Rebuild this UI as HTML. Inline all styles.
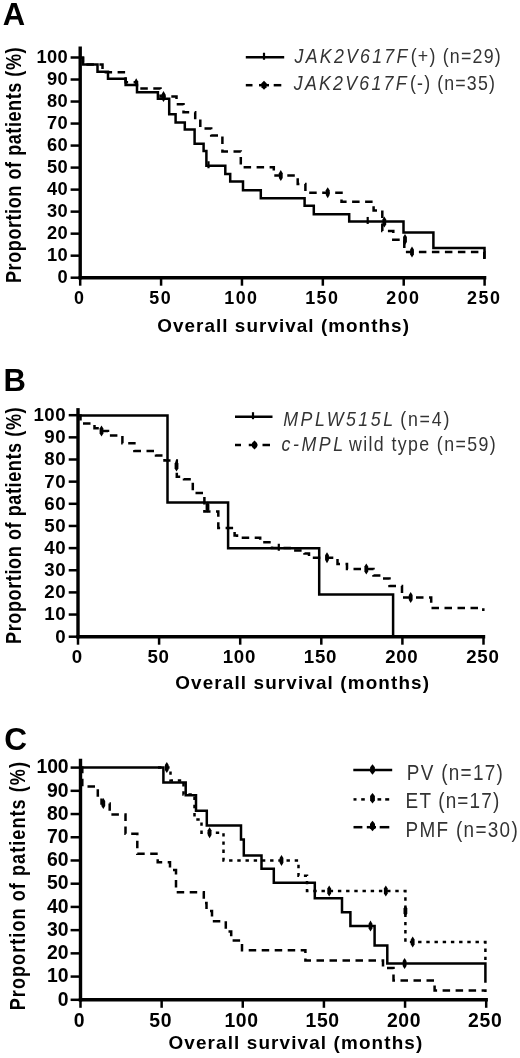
<!DOCTYPE html>
<html><head><meta charset="utf-8"><style>html,body{margin:0;padding:0;background:#fff;}svg{display:block;will-change:transform;}</style></head>
<body>
<svg width="520" height="1058" viewBox="0 0 520 1058">
<rect width="520" height="1058" fill="#fff"/>
<text x="2.83" y="25.10" font-size="31.00" letter-spacing="0.000" font-family="Liberation Sans, sans-serif" xml:space="preserve"><tspan font-weight="bold">A</tspan></text>
<text x="3.48" y="391.00" font-size="31.00" letter-spacing="0.000" font-family="Liberation Sans, sans-serif" xml:space="preserve"><tspan font-weight="bold">B</tspan></text>
<text x="4.34" y="749.60" font-size="31.60" letter-spacing="0.000" font-family="Liberation Sans, sans-serif" xml:space="preserve"><tspan font-weight="bold">C</tspan></text>
<line x1="80.20" y1="46.50" x2="80.20" y2="279.40" stroke="#000" stroke-width="3.40"/>
<line x1="78.50" y1="277.70" x2="486.30" y2="277.70" stroke="#000" stroke-width="3.40"/>
<line x1="70.60" y1="277.70" x2="80.20" y2="277.70" stroke="#000" stroke-width="2.50"/>
<text x="57.58" y="283.01" font-size="18.30" letter-spacing="0.430" font-family="Liberation Sans, sans-serif" xml:space="preserve"><tspan font-weight="bold">0</tspan></text>
<line x1="70.60" y1="255.68" x2="80.20" y2="255.68" stroke="#000" stroke-width="2.50"/>
<text x="46.99" y="260.99" font-size="18.30" letter-spacing="0.430" font-family="Liberation Sans, sans-serif" xml:space="preserve"><tspan font-weight="bold">10</tspan></text>
<line x1="70.60" y1="233.66" x2="80.20" y2="233.66" stroke="#000" stroke-width="2.50"/>
<text x="46.99" y="238.97" font-size="18.30" letter-spacing="0.430" font-family="Liberation Sans, sans-serif" xml:space="preserve"><tspan font-weight="bold">20</tspan></text>
<line x1="70.60" y1="211.64" x2="80.20" y2="211.64" stroke="#000" stroke-width="2.50"/>
<text x="46.99" y="216.95" font-size="18.30" letter-spacing="0.430" font-family="Liberation Sans, sans-serif" xml:space="preserve"><tspan font-weight="bold">30</tspan></text>
<line x1="70.60" y1="189.62" x2="80.20" y2="189.62" stroke="#000" stroke-width="2.50"/>
<text x="46.99" y="194.93" font-size="18.30" letter-spacing="0.430" font-family="Liberation Sans, sans-serif" xml:space="preserve"><tspan font-weight="bold">40</tspan></text>
<line x1="70.60" y1="167.60" x2="80.20" y2="167.60" stroke="#000" stroke-width="2.50"/>
<text x="46.99" y="172.91" font-size="18.30" letter-spacing="0.430" font-family="Liberation Sans, sans-serif" xml:space="preserve"><tspan font-weight="bold">50</tspan></text>
<line x1="70.60" y1="145.58" x2="80.20" y2="145.58" stroke="#000" stroke-width="2.50"/>
<text x="46.99" y="150.89" font-size="18.30" letter-spacing="0.430" font-family="Liberation Sans, sans-serif" xml:space="preserve"><tspan font-weight="bold">60</tspan></text>
<line x1="70.60" y1="123.56" x2="80.20" y2="123.56" stroke="#000" stroke-width="2.50"/>
<text x="46.99" y="128.87" font-size="18.30" letter-spacing="0.430" font-family="Liberation Sans, sans-serif" xml:space="preserve"><tspan font-weight="bold">70</tspan></text>
<line x1="70.60" y1="101.54" x2="80.20" y2="101.54" stroke="#000" stroke-width="2.50"/>
<text x="46.99" y="106.85" font-size="18.30" letter-spacing="0.430" font-family="Liberation Sans, sans-serif" xml:space="preserve"><tspan font-weight="bold">80</tspan></text>
<line x1="70.60" y1="79.52" x2="80.20" y2="79.52" stroke="#000" stroke-width="2.50"/>
<text x="46.99" y="84.83" font-size="18.30" letter-spacing="0.430" font-family="Liberation Sans, sans-serif" xml:space="preserve"><tspan font-weight="bold">90</tspan></text>
<line x1="70.60" y1="57.50" x2="80.20" y2="57.50" stroke="#000" stroke-width="2.50"/>
<text x="36.40" y="62.81" font-size="18.30" letter-spacing="0.430" font-family="Liberation Sans, sans-serif" xml:space="preserve"><tspan font-weight="bold">100</tspan></text>
<line x1="80.20" y1="277.70" x2="80.20" y2="285.70" stroke="#000" stroke-width="2.50"/>
<text x="74.08" y="304.00" font-size="17.90" letter-spacing="1.470" font-family="Liberation Sans, sans-serif" xml:space="preserve"><tspan font-weight="bold">0</tspan></text>
<line x1="161.08" y1="277.70" x2="161.08" y2="285.70" stroke="#000" stroke-width="2.50"/>
<text x="149.35" y="304.00" font-size="17.90" letter-spacing="1.470" font-family="Liberation Sans, sans-serif" xml:space="preserve"><tspan font-weight="bold">50</tspan></text>
<line x1="241.96" y1="277.70" x2="241.96" y2="285.70" stroke="#000" stroke-width="2.50"/>
<text x="224.26" y="304.00" font-size="17.90" letter-spacing="1.470" font-family="Liberation Sans, sans-serif" xml:space="preserve"><tspan font-weight="bold">100</tspan></text>
<line x1="322.84" y1="277.70" x2="322.84" y2="285.70" stroke="#000" stroke-width="2.50"/>
<text x="305.14" y="304.00" font-size="17.90" letter-spacing="1.470" font-family="Liberation Sans, sans-serif" xml:space="preserve"><tspan font-weight="bold">150</tspan></text>
<line x1="403.72" y1="277.70" x2="403.72" y2="285.70" stroke="#000" stroke-width="2.50"/>
<text x="386.24" y="304.00" font-size="17.90" letter-spacing="1.470" font-family="Liberation Sans, sans-serif" xml:space="preserve"><tspan font-weight="bold">200</tspan></text>
<line x1="484.60" y1="277.70" x2="484.60" y2="285.70" stroke="#000" stroke-width="2.50"/>
<text x="467.12" y="304.00" font-size="17.90" letter-spacing="1.470" font-family="Liberation Sans, sans-serif" xml:space="preserve"><tspan font-weight="bold">250</tspan></text>
<text transform="translate(20.70 282.98) rotate(-90) scale(1 1.2000)" font-size="18.10" letter-spacing="0.537" font-family="Liberation Sans, sans-serif" xml:space="preserve"><tspan font-weight="bold">Proportion of patients (%)</tspan></text>
<text transform="translate(157.24 331.80) scale(1.0500 1)" font-size="18.00" letter-spacing="0.994" font-family="Liberation Sans, sans-serif" xml:space="preserve"><tspan font-weight="bold">Overall survival (months)</tspan></text>
<path d="M80.2 57.7H83V64.5H97.5V71.7H108V78.8H125.6V85.1H137V92.3H157.9V98.8H169.2V114.3H175.6V122.4H184.8V129.5H194.6V143.8H203.6V151H206.4V165.8H225.3V174H230.2V181.5H243V190.3H260.8V198.3H304.6V205.8H313.8V214.2H349.2V221.5H403.5V232.4H433.4V248H484.5V258.8" fill="none" stroke="#000" stroke-width="2.50" stroke-linejoin="miter"/>
<line x1="208.50" y1="161.25" x2="208.50" y2="168.25" stroke="#000" stroke-width="2.20"/>
<line x1="367.70" y1="216.95" x2="367.70" y2="223.95" stroke="#000" stroke-width="2.20"/>
<path d="M80.2 57.7H83V64.5H102.5V72.3H125.6V82.3H137V88.6H160.5V96.6H176.5V104.2H183.5V112.2H195.2V119.2H200.3V128.4H211.2V135.4H222.4V151.4H240.8V167.3H273.8V175.6H297.7V184H305.4V192.7H341.5V201.8H373.6V210.4H382.3V231H393.3V239.7H404.3V252H484.3V264" fill="none" stroke="#000" stroke-width="2.50" stroke-dasharray="7.5 5.5" stroke-linejoin="miter"/>
<path d="M136.20 78.30L137.50 80.54L137.50 84.06L136.20 86.30L134.90 84.06L134.90 80.54Z" fill="#000"/>
<path d="M163.50 91.10L165.40 94.18L165.40 99.02L163.50 102.10L161.60 99.02L161.60 94.18Z" fill="#000"/>
<path d="M280.80 170.10L282.70 173.18L282.70 178.02L280.80 181.10L278.90 178.02L278.90 173.18Z" fill="#000"/>
<path d="M327.70 187.20L329.60 190.28L329.60 195.12L327.70 198.20L325.80 195.12L325.80 190.28Z" fill="#000"/>
<path d="M384.30 216.50L386.20 219.58L386.20 224.42L384.30 227.50L382.40 224.42L382.40 219.58Z" fill="#000"/>
<path d="M405.00 234.00L406.90 237.08L406.90 241.92L405.00 245.00L403.10 241.92L403.10 237.08Z" fill="#000"/>
<path d="M412.00 246.50L413.90 249.58L413.90 254.42L412.00 257.50L410.10 254.42L410.10 249.58Z" fill="#000"/>
<line x1="245.80" y1="57.30" x2="284.20" y2="57.30" stroke="#000" stroke-width="2.50"/>
<line x1="264.00" y1="52.75" x2="264.00" y2="59.75" stroke="#000" stroke-width="2.20"/>
<line x1="245.80" y1="85.20" x2="252.50" y2="85.20" stroke="#000" stroke-width="2.50"/>
<line x1="259.00" y1="85.20" x2="269.00" y2="85.20" stroke="#000" stroke-width="2.50"/>
<line x1="273.70" y1="85.20" x2="281.30" y2="85.20" stroke="#000" stroke-width="2.50"/>
<path d="M264.00 80.70L266.50 83.22L266.50 87.18L264.00 89.70L261.50 87.18L261.50 83.22Z" fill="#000"/>
<text transform="translate(294.60 63.00) scale(0.8800 1)" font-size="20.20" letter-spacing="2.539" font-family="Liberation Sans, sans-serif" fill="#333" xml:space="preserve"><tspan font-style="italic">JAK2V617F</tspan></text>
<text transform="translate(410.73 63.00) scale(0.8800 1)" font-size="20.20" letter-spacing="1.379" font-family="Liberation Sans, sans-serif" fill="#333" xml:space="preserve"><tspan>(+) (n=29)</tspan></text>
<text transform="translate(293.80 90.20) scale(0.8800 1)" font-size="20.20" letter-spacing="2.539" font-family="Liberation Sans, sans-serif" fill="#333" xml:space="preserve"><tspan font-style="italic">JAK2V617F</tspan></text>
<text transform="translate(410.03 90.20) scale(0.8800 1)" font-size="20.20" letter-spacing="1.296" font-family="Liberation Sans, sans-serif" fill="#333" xml:space="preserve"><tspan>(-) (n=35)</tspan></text>
<line x1="78.00" y1="408.10" x2="78.00" y2="638.40" stroke="#000" stroke-width="3.40"/>
<line x1="76.30" y1="636.70" x2="485.20" y2="636.70" stroke="#000" stroke-width="3.40"/>
<line x1="68.70" y1="636.70" x2="78.00" y2="636.70" stroke="#000" stroke-width="2.50"/>
<text x="55.17" y="642.60" font-size="18.70" letter-spacing="0.467" font-family="Liberation Sans, sans-serif" xml:space="preserve"><tspan font-weight="bold">0</tspan></text>
<line x1="68.70" y1="614.55" x2="78.00" y2="614.55" stroke="#000" stroke-width="2.50"/>
<text x="44.32" y="620.45" font-size="18.70" letter-spacing="0.467" font-family="Liberation Sans, sans-serif" xml:space="preserve"><tspan font-weight="bold">10</tspan></text>
<line x1="68.70" y1="592.40" x2="78.00" y2="592.40" stroke="#000" stroke-width="2.50"/>
<text x="44.32" y="598.30" font-size="18.70" letter-spacing="0.467" font-family="Liberation Sans, sans-serif" xml:space="preserve"><tspan font-weight="bold">20</tspan></text>
<line x1="68.70" y1="570.25" x2="78.00" y2="570.25" stroke="#000" stroke-width="2.50"/>
<text x="44.32" y="576.15" font-size="18.70" letter-spacing="0.467" font-family="Liberation Sans, sans-serif" xml:space="preserve"><tspan font-weight="bold">30</tspan></text>
<line x1="68.70" y1="548.10" x2="78.00" y2="548.10" stroke="#000" stroke-width="2.50"/>
<text x="44.32" y="554.00" font-size="18.70" letter-spacing="0.467" font-family="Liberation Sans, sans-serif" xml:space="preserve"><tspan font-weight="bold">40</tspan></text>
<line x1="68.70" y1="525.95" x2="78.00" y2="525.95" stroke="#000" stroke-width="2.50"/>
<text x="44.32" y="531.85" font-size="18.70" letter-spacing="0.467" font-family="Liberation Sans, sans-serif" xml:space="preserve"><tspan font-weight="bold">50</tspan></text>
<line x1="68.70" y1="503.80" x2="78.00" y2="503.80" stroke="#000" stroke-width="2.50"/>
<text x="44.32" y="509.70" font-size="18.70" letter-spacing="0.467" font-family="Liberation Sans, sans-serif" xml:space="preserve"><tspan font-weight="bold">60</tspan></text>
<line x1="68.70" y1="481.65" x2="78.00" y2="481.65" stroke="#000" stroke-width="2.50"/>
<text x="44.32" y="487.55" font-size="18.70" letter-spacing="0.467" font-family="Liberation Sans, sans-serif" xml:space="preserve"><tspan font-weight="bold">70</tspan></text>
<line x1="68.70" y1="459.50" x2="78.00" y2="459.50" stroke="#000" stroke-width="2.50"/>
<text x="44.32" y="465.40" font-size="18.70" letter-spacing="0.467" font-family="Liberation Sans, sans-serif" xml:space="preserve"><tspan font-weight="bold">80</tspan></text>
<line x1="68.70" y1="437.35" x2="78.00" y2="437.35" stroke="#000" stroke-width="2.50"/>
<text x="44.32" y="443.25" font-size="18.70" letter-spacing="0.467" font-family="Liberation Sans, sans-serif" xml:space="preserve"><tspan font-weight="bold">90</tspan></text>
<line x1="68.70" y1="415.20" x2="78.00" y2="415.20" stroke="#000" stroke-width="2.50"/>
<text x="33.48" y="421.10" font-size="18.70" letter-spacing="0.467" font-family="Liberation Sans, sans-serif" xml:space="preserve"><tspan font-weight="bold">100</tspan></text>
<line x1="78.00" y1="636.70" x2="78.00" y2="644.70" stroke="#000" stroke-width="2.50"/>
<text x="71.81" y="662.60" font-size="18.70" letter-spacing="0.684" font-family="Liberation Sans, sans-serif" xml:space="preserve"><tspan font-weight="bold">0</tspan></text>
<line x1="159.10" y1="636.70" x2="159.10" y2="644.70" stroke="#000" stroke-width="2.50"/>
<text x="147.47" y="662.60" font-size="18.70" letter-spacing="0.684" font-family="Liberation Sans, sans-serif" xml:space="preserve"><tspan font-weight="bold">50</tspan></text>
<line x1="240.20" y1="636.70" x2="240.20" y2="644.70" stroke="#000" stroke-width="2.50"/>
<text x="222.76" y="662.60" font-size="18.70" letter-spacing="0.684" font-family="Liberation Sans, sans-serif" xml:space="preserve"><tspan font-weight="bold">100</tspan></text>
<line x1="321.30" y1="636.70" x2="321.30" y2="644.70" stroke="#000" stroke-width="2.50"/>
<text x="303.86" y="662.60" font-size="18.70" letter-spacing="0.684" font-family="Liberation Sans, sans-serif" xml:space="preserve"><tspan font-weight="bold">150</tspan></text>
<line x1="402.40" y1="636.70" x2="402.40" y2="644.70" stroke="#000" stroke-width="2.50"/>
<text x="385.20" y="662.60" font-size="18.70" letter-spacing="0.684" font-family="Liberation Sans, sans-serif" xml:space="preserve"><tspan font-weight="bold">200</tspan></text>
<line x1="483.50" y1="636.70" x2="483.50" y2="644.70" stroke="#000" stroke-width="2.50"/>
<text x="466.30" y="662.60" font-size="18.70" letter-spacing="0.684" font-family="Liberation Sans, sans-serif" xml:space="preserve"><tspan font-weight="bold">250</tspan></text>
<text transform="translate(20.70 643.88) rotate(-90) scale(1 1.2000)" font-size="18.10" letter-spacing="0.573" font-family="Liberation Sans, sans-serif" xml:space="preserve"><tspan font-weight="bold">Proportion of patients (%)</tspan></text>
<text transform="translate(175.24 688.80) scale(1.0500 1)" font-size="18.00" letter-spacing="1.074" font-family="Liberation Sans, sans-serif" xml:space="preserve"><tspan font-weight="bold">Overall survival (months)</tspan></text>
<path d="M78 415.5H167.5V502.5H228.1V548.3H319.2V594.6H393.1V636.7" fill="none" stroke="#000" stroke-width="2.50" stroke-linejoin="miter"/>
<line x1="278.80" y1="543.75" x2="278.80" y2="550.75" stroke="#000" stroke-width="2.20"/>
<path d="M78 415.5H80.5V423.5H94.5V428.2H101.5V431H108V435.6H122.4V443.3H134.4V451H156V455.5H164.5V460.5H176.8V476.8H184V479.2H192.8V493H204.4V511.5H218.3V527.9H234.6V535.6H237V537.8H260.2V542.3H272V548H294V550.4H304.5V553.5H309V557.7H337.5V564H347V569H373.5V575.6H383V578.5H389.5V586H402V597.5H431.2V608H483.3V611" fill="none" stroke="#000" stroke-width="2.50" stroke-dasharray="7.5 5.5" stroke-linejoin="miter"/>
<path d="M101.50 425.50L103.40 428.58L103.40 433.42L101.50 436.50L99.60 433.42L99.60 428.58Z" fill="#000"/>
<path d="M176.50 460.50L178.40 463.58L178.40 468.42L176.50 471.50L174.60 468.42L174.60 463.58Z" fill="#000"/>
<path d="M207.50 501.50L209.40 504.58L209.40 509.42L207.50 512.50L205.60 509.42L205.60 504.58Z" fill="#000"/>
<path d="M327.00 552.20L328.90 555.28L328.90 560.12L327.00 563.20L325.10 560.12L325.10 555.28Z" fill="#000"/>
<path d="M366.30 563.50L368.20 566.58L368.20 571.42L366.30 574.50L364.40 571.42L364.40 566.58Z" fill="#000"/>
<path d="M410.70 592.00L412.60 595.08L412.60 599.92L410.70 603.00L408.80 599.92L408.80 595.08Z" fill="#000"/>
<line x1="235.00" y1="416.75" x2="272.50" y2="416.75" stroke="#000" stroke-width="2.50"/>
<line x1="253.00" y1="412.20" x2="253.00" y2="419.20" stroke="#000" stroke-width="2.20"/>
<line x1="235.00" y1="445.00" x2="241.00" y2="445.00" stroke="#000" stroke-width="2.50"/>
<line x1="248.75" y1="445.00" x2="257.50" y2="445.00" stroke="#000" stroke-width="2.50"/>
<line x1="262.50" y1="445.00" x2="270.00" y2="445.00" stroke="#000" stroke-width="2.50"/>
<path d="M254.50 440.50L257.00 443.02L257.00 446.98L254.50 449.50L252.00 446.98L252.00 443.02Z" fill="#000"/>
<text transform="translate(283.27 425.60) scale(0.8800 1)" font-size="20.20" letter-spacing="2.859" font-family="Liberation Sans, sans-serif" fill="#333" xml:space="preserve"><tspan font-style="italic">MPLW515L</tspan></text>
<text transform="translate(400.13 425.60) scale(0.8800 1)" font-size="20.20" letter-spacing="2.097" font-family="Liberation Sans, sans-serif" fill="#333" xml:space="preserve"><tspan>(n=4)</tspan></text>
<text transform="translate(281.47 451.00) scale(0.8800 1)" font-size="20.20" letter-spacing="2.956" font-family="Liberation Sans, sans-serif" fill="#333" xml:space="preserve"><tspan font-style="italic">c-MPL</tspan></text>
<text transform="translate(349.00 451.00) scale(0.8800 1)" font-size="20.20" letter-spacing="1.570" font-family="Liberation Sans, sans-serif" fill="#333" xml:space="preserve"><tspan>wild type (n=59)</tspan></text>
<line x1="80.50" y1="758.70" x2="80.50" y2="1001.50" stroke="#000" stroke-width="3.40"/>
<line x1="78.80" y1="999.80" x2="487.90" y2="999.80" stroke="#000" stroke-width="3.40"/>
<line x1="70.60" y1="999.80" x2="80.50" y2="999.80" stroke="#000" stroke-width="2.50"/>
<text x="57.71" y="1005.59" font-size="19.40" letter-spacing="-0.180" font-family="Liberation Sans, sans-serif" xml:space="preserve"><tspan font-weight="bold">0</tspan></text>
<line x1="70.60" y1="976.58" x2="80.50" y2="976.58" stroke="#000" stroke-width="2.50"/>
<text x="47.12" y="982.37" font-size="19.40" letter-spacing="-0.180" font-family="Liberation Sans, sans-serif" xml:space="preserve"><tspan font-weight="bold">10</tspan></text>
<line x1="70.60" y1="953.36" x2="80.50" y2="953.36" stroke="#000" stroke-width="2.50"/>
<text x="47.12" y="959.15" font-size="19.40" letter-spacing="-0.180" font-family="Liberation Sans, sans-serif" xml:space="preserve"><tspan font-weight="bold">20</tspan></text>
<line x1="70.60" y1="930.14" x2="80.50" y2="930.14" stroke="#000" stroke-width="2.50"/>
<text x="47.12" y="935.93" font-size="19.40" letter-spacing="-0.180" font-family="Liberation Sans, sans-serif" xml:space="preserve"><tspan font-weight="bold">30</tspan></text>
<line x1="70.60" y1="906.92" x2="80.50" y2="906.92" stroke="#000" stroke-width="2.50"/>
<text x="47.12" y="912.71" font-size="19.40" letter-spacing="-0.180" font-family="Liberation Sans, sans-serif" xml:space="preserve"><tspan font-weight="bold">40</tspan></text>
<line x1="70.60" y1="883.70" x2="80.50" y2="883.70" stroke="#000" stroke-width="2.50"/>
<text x="47.12" y="889.49" font-size="19.40" letter-spacing="-0.180" font-family="Liberation Sans, sans-serif" xml:space="preserve"><tspan font-weight="bold">50</tspan></text>
<line x1="70.60" y1="860.48" x2="80.50" y2="860.48" stroke="#000" stroke-width="2.50"/>
<text x="47.12" y="866.27" font-size="19.40" letter-spacing="-0.180" font-family="Liberation Sans, sans-serif" xml:space="preserve"><tspan font-weight="bold">60</tspan></text>
<line x1="70.60" y1="837.26" x2="80.50" y2="837.26" stroke="#000" stroke-width="2.50"/>
<text x="47.12" y="843.05" font-size="19.40" letter-spacing="-0.180" font-family="Liberation Sans, sans-serif" xml:space="preserve"><tspan font-weight="bold">70</tspan></text>
<line x1="70.60" y1="814.04" x2="80.50" y2="814.04" stroke="#000" stroke-width="2.50"/>
<text x="47.12" y="819.83" font-size="19.40" letter-spacing="-0.180" font-family="Liberation Sans, sans-serif" xml:space="preserve"><tspan font-weight="bold">80</tspan></text>
<line x1="70.60" y1="790.82" x2="80.50" y2="790.82" stroke="#000" stroke-width="2.50"/>
<text x="47.12" y="796.61" font-size="19.40" letter-spacing="-0.180" font-family="Liberation Sans, sans-serif" xml:space="preserve"><tspan font-weight="bold">90</tspan></text>
<line x1="70.60" y1="767.60" x2="80.50" y2="767.60" stroke="#000" stroke-width="2.50"/>
<text x="36.54" y="773.39" font-size="19.40" letter-spacing="-0.180" font-family="Liberation Sans, sans-serif" xml:space="preserve"><tspan font-weight="bold">100</tspan></text>
<line x1="80.50" y1="999.80" x2="80.50" y2="1007.80" stroke="#000" stroke-width="2.50"/>
<text x="73.72" y="1027.00" font-size="19.40" letter-spacing="0.627" font-family="Liberation Sans, sans-serif" xml:space="preserve"><tspan font-weight="bold">0</tspan></text>
<line x1="161.64" y1="999.80" x2="161.64" y2="1007.80" stroke="#000" stroke-width="2.50"/>
<text x="149.26" y="1027.00" font-size="19.40" letter-spacing="0.627" font-family="Liberation Sans, sans-serif" xml:space="preserve"><tspan font-weight="bold">50</tspan></text>
<line x1="242.78" y1="999.80" x2="242.78" y2="1007.80" stroke="#000" stroke-width="2.50"/>
<text x="224.41" y="1027.00" font-size="19.40" letter-spacing="0.627" font-family="Liberation Sans, sans-serif" xml:space="preserve"><tspan font-weight="bold">100</tspan></text>
<line x1="323.92" y1="999.80" x2="323.92" y2="1007.80" stroke="#000" stroke-width="2.50"/>
<text x="305.55" y="1027.00" font-size="19.40" letter-spacing="0.627" font-family="Liberation Sans, sans-serif" xml:space="preserve"><tspan font-weight="bold">150</tspan></text>
<line x1="405.06" y1="999.80" x2="405.06" y2="1007.80" stroke="#000" stroke-width="2.50"/>
<text x="386.93" y="1027.00" font-size="19.40" letter-spacing="0.627" font-family="Liberation Sans, sans-serif" xml:space="preserve"><tspan font-weight="bold">200</tspan></text>
<line x1="486.20" y1="999.80" x2="486.20" y2="1007.80" stroke="#000" stroke-width="2.50"/>
<text x="468.07" y="1027.00" font-size="19.40" letter-spacing="0.627" font-family="Liberation Sans, sans-serif" xml:space="preserve"><tspan font-weight="bold">250</tspan></text>
<text transform="translate(24.90 1010.28) rotate(-90) scale(1 1.2000)" font-size="18.10" letter-spacing="1.045" font-family="Liberation Sans, sans-serif" xml:space="preserve"><tspan font-weight="bold">Proportion of patients (%)</tspan></text>
<text transform="translate(168.49 1048.80) scale(1.0500 1)" font-size="18.00" letter-spacing="1.074" font-family="Liberation Sans, sans-serif" xml:space="preserve"><tspan font-weight="bold">Overall survival (months)</tspan></text>
<path d="M80.5 767.5H163.4V782.6H185.7V795.3H196V810.8H206.8V825.6H241V839.6H243.8V855.4H261.5V868.8H273.8V882.7H314.8V898.2H342V912.3H350.4V926.1H374.6V945.6H387.3V963.5H485.4V982.7" fill="none" stroke="#000" stroke-width="2.50" stroke-linejoin="miter"/>
<path d="M370.50 920.60L372.40 923.68L372.40 928.52L370.50 931.60L368.60 928.52L368.60 923.68Z" fill="#000"/>
<path d="M404.60 958.00L406.50 961.08L406.50 965.92L404.60 969.00L402.70 965.92L402.70 961.08Z" fill="#000"/>
<path d="M158 767.5H170.5V780.5H183.5V794.5H194.5V819.4H201.5V832.7H223.5V860.4H298.5V875.8H307V891H405.4V942H485.4V962" fill="none" stroke="#000" stroke-width="2.50" stroke-dasharray="3.4 4.8" stroke-linejoin="miter"/>
<path d="M166.80 762.00L168.70 765.08L168.70 769.92L166.80 773.00L164.90 769.92L164.90 765.08Z" fill="#000"/>
<path d="M209.60 827.20L211.50 830.28L211.50 835.12L209.60 838.20L207.70 835.12L207.70 830.28Z" fill="#000"/>
<path d="M281.50 854.90L283.40 857.98L283.40 862.82L281.50 865.90L279.60 862.82L279.60 857.98Z" fill="#000"/>
<path d="M329.20 885.50L331.10 888.58L331.10 893.42L329.20 896.50L327.30 893.42L327.30 888.58Z" fill="#000"/>
<path d="M385.80 885.50L387.70 888.58L387.70 893.42L385.80 896.50L383.90 893.42L383.90 888.58Z" fill="#000"/>
<path d="M405.40 905.50L407.30 908.58L407.30 913.42L405.40 916.50L403.50 913.42L403.50 908.58Z" fill="#000"/>
<path d="M412.70 936.50L414.60 939.58L414.60 944.42L412.70 947.50L410.80 944.42L410.80 939.58Z" fill="#000"/>
<path d="M80.5 767.5H82.3V786.5H97.8V795.4H101.5V803.5H109.7V814.6H125.5V833.8H137.3V853.8H157.7V862.3H170V870H176V892.3H203.8V903H206.5V911H212V921.2H225.8V931.5H231.2V940.4H242V950.3H305.4V960.5H383V968H393.5V980.5H434.6V990.4H485.4V992" fill="none" stroke="#000" stroke-width="2.50" stroke-dasharray="7.5 5.5" stroke-linejoin="miter"/>
<path d="M103.30 798.00L105.20 801.08L105.20 805.92L103.30 809.00L101.40 805.92L101.40 801.08Z" fill="#000"/>
<line x1="353.30" y1="770.00" x2="392.20" y2="770.00" stroke="#000" stroke-width="2.50"/>
<path d="M372.50 764.25L374.90 767.19L374.90 771.81L372.50 774.75L370.10 771.81L370.10 767.19Z" fill="#000"/>
<line x1="353.50" y1="799.40" x2="356.50" y2="799.40" stroke="#000" stroke-width="2.50"/>
<line x1="361.20" y1="799.40" x2="364.80" y2="799.40" stroke="#000" stroke-width="2.50"/>
<line x1="377.50" y1="799.40" x2="381.20" y2="799.40" stroke="#000" stroke-width="2.50"/>
<line x1="385.20" y1="799.40" x2="389.20" y2="799.40" stroke="#000" stroke-width="2.50"/>
<path d="M372.50 792.95L374.90 795.89L374.90 800.51L372.50 803.45L370.10 800.51L370.10 795.89Z" fill="#000"/>
<line x1="353.50" y1="827.20" x2="362.40" y2="827.20" stroke="#000" stroke-width="2.50"/>
<line x1="366.80" y1="827.20" x2="376.00" y2="827.20" stroke="#000" stroke-width="2.50"/>
<line x1="379.70" y1="827.20" x2="389.30" y2="827.20" stroke="#000" stroke-width="2.50"/>
<path d="M372.50 820.75L375.00 823.69L375.00 828.31L372.50 831.25L370.00 828.31L370.00 823.69Z" fill="#000"/>
<text transform="translate(406.79 780.00) scale(0.8800 1)" font-size="21.50" letter-spacing="1.468" font-family="Liberation Sans, sans-serif" fill="#333" xml:space="preserve"><tspan>PV (n=17)</tspan></text>
<text transform="translate(405.59 807.60) scale(0.8800 1)" font-size="21.50" letter-spacing="1.330" font-family="Liberation Sans, sans-serif" fill="#333" xml:space="preserve"><tspan>ET (n=17)</tspan></text>
<text transform="translate(405.59 836.60) scale(0.8800 1)" font-size="21.50" letter-spacing="1.475" font-family="Liberation Sans, sans-serif" fill="#333" xml:space="preserve"><tspan>PMF (n=30)</tspan></text>
</svg>
</body></html>
